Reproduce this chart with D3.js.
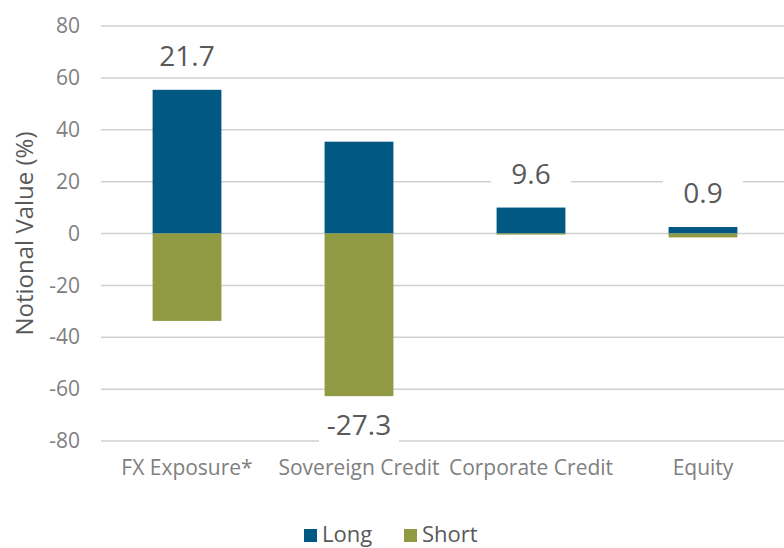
<!DOCTYPE html>
<html>
<head>
<meta charset="utf-8">
<script src="https://cdn.jsdelivr.net/npm/d3@7"></script>
<style>
  body { margin: 0; background: #fff; }
  svg { display: block; font-family: "Open Sans", "Noto Sans", sans-serif; }
</style>
</head>
<body>
<div class="chart"></div>
<script>
const categories = ["FX Exposure*", "Sovereign Credit", "Corporate Credit", "Equity"];
const longValues = [55.4, 35.4, 10.0, 2.5];
const shortValues = [-33.7, -62.7, -0.4, -1.5];
const netLabels = ["21.7", "-27.3", "9.6", "0.9"];
const yTicks = [-80, -60, -40, -20, 0, 20, 40, 60, 80];
const seriesNames = ["Long", "Short"];
const colors = ["#005883", "#8f9a42"];

const width = 784, height = 548;

const svg = d3.select(".chart").append("svg")
  .attr("width", width)
  .attr("height", height);

const x = d3.scaleBand()
  .domain(categories)
  .range([101, 789])
  .paddingInner(0.6)
  .paddingOuter(0.3);

const y = d3.scaleLinear()
  .domain([-80, 80])
  .range([441, 26]);

// grid
svg.append("g")
  .selectAll("line")
  .data(yTicks)
  .join("line")
  .attr("x1", 101)
  .attr("x2", width)
  .attr("y1", d => y(d))
  .attr("y2", d => y(d))
  .attr("stroke", "#d0d0d0")
  .attr("stroke-width", 1.5);

// y axis labels
const yAxis = svg.append("g")
  .attr("transform", "translate(101,0)")
  .call(d3.axisLeft(y).tickValues(yTicks).tickFormat(d => String(d)).tickSize(0).tickPadding(21));
yAxis.select(".domain").remove();
yAxis.selectAll("text")
  .attr("fill", "#808080")
  .style("font-size", "21px")
  .style("font-family", "Open Sans, sans-serif");

svg.append("text")
  .attr("transform", "translate(33," + y(0) + ") rotate(-90)")
  .attr("text-anchor", "middle")
  .attr("fill", "#595959")
  .style("font-size", "24px")
  .text("Notional Value (%)");

// x axis labels
const xAxis = svg.append("g")
  .attr("transform", "translate(0,458)")
  .call(d3.axisBottom(x).tickSize(0).tickPadding(0));
xAxis.select(".domain").remove();
xAxis.selectAll("text")
  .attr("fill", "#808080")
  .attr("dy", "0.8em")
  .style("font-size", "21px")
  .style("font-family", "Open Sans, sans-serif");

// bars
svg.append("g")
  .selectAll("rect")
  .data(longValues)
  .join("rect")
  .attr("x", (d, i) => x(categories[i]))
  .attr("width", x.bandwidth())
  .attr("y", d => y(d))
  .attr("height", d => y(0) - y(d))
  .attr("fill", colors[0]);

svg.append("g")
  .selectAll("rect")
  .data(shortValues)
  .join("rect")
  .attr("x", (d, i) => x(categories[i]))
  .attr("width", x.bandwidth())
  .attr("y", y(0))
  .attr("height", d => y(d) - y(0))
  .attr("fill", colors[1]);

// net labels
const labelY = (i) => {
  const net = parseFloat(netLabels[i]);
  return net >= 0 ? y(longValues[i]) - 34 : y(shortValues[i]) + 29;
};
const labels = svg.append("g")
  .selectAll("g")
  .data(netLabels)
  .join("g")
  .attr("transform", (d, i) => "translate(" + (x(categories[i]) + x.bandwidth() / 2) + "," + labelY(i) + ")");

labels.append("rect")
  .attr("x", -40)
  .attr("y", -19)
  .attr("width", 80)
  .attr("height", 38)
  .attr("fill", "#fff");

labels.append("text")
  .attr("text-anchor", "middle")
  .attr("dy", "0.36em")
  .attr("fill", "#595959")
  .style("font-size", "28px")
  .text(d => d);

// legend
const legend = svg.append("g")
  .selectAll("g")
  .data(seriesNames)
  .join("g")
  .attr("transform", (d, i) => "translate(" + (304 + i * 100) + ",529)");

legend.append("rect")
  .attr("width", 13)
  .attr("height", 13)
  .attr("fill", (d, i) => colors[i]);

legend.append("text")
  .attr("x", 18)
  .attr("y", 13)
  .attr("fill", "#595959")
  .style("font-size", "22px")
  .text(d => d);
</script>
</body>
</html>
